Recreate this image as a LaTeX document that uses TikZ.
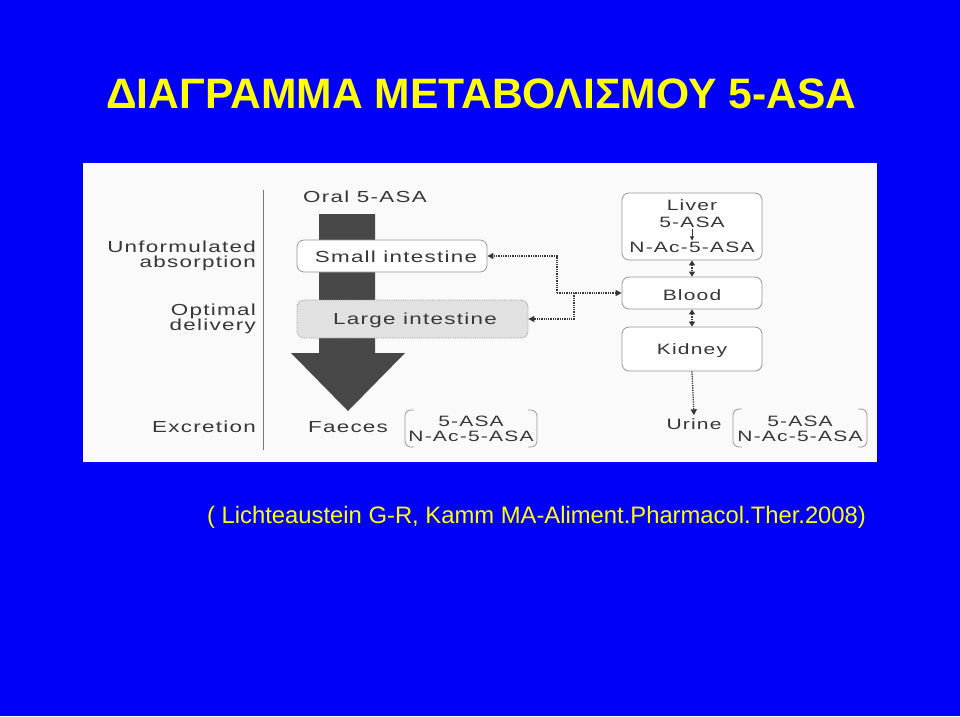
\documentclass[tikz,border=0pt]{standalone}
\usepackage{fontspec}
\setmainfont{Liberation Sans}
\newfontfamily\diagfont[FakeStretch=1.4,LetterSpace=8]{Liberation Sans}
\usetikzlibrary{arrows.meta}
\definecolor{slideblue}{RGB}{0,0,250}
\definecolor{slideyellow}{RGB}{255,255,0}
\definecolor{panelwhite}{RGB}{250,250,250}
\definecolor{arrowgray}{RGB}{72,72,72}
\definecolor{inkgray}{RGB}{55,55,55}
\definecolor{boxgray}{RGB}{150,150,150}
\definecolor{largefill}{RGB}{225,225,225}
\tikzset{
  dtext/.style={font=\diagfont\fontsize{16}{17}\selectfont, text=inkgray, inner sep=0pt, align=center},
  stext/.style={font=\diagfont\fontsize{15}{16}\selectfont, text=inkgray, inner sep=0pt, align=center},
  ltext/.style={font=\diagfont\fontsize{16}{15}\selectfont, text=inkgray, inner sep=0pt, align=right},
  organ/.style={draw=boxgray, line width=0.8pt, rounded corners=7pt, fill=white, inner sep=0pt},
  dotarrow/.style={draw=inkgray, densely dotted, line width=1.3pt, -{Triangle[length=6pt,width=6pt]}},
  dotboth/.style={draw=inkgray, densely dotted, line width=1.3pt, {Triangle[length=5pt,width=6pt]}-{Triangle[length=5pt,width=6pt]}},
  bracketline/.style={draw=boxgray, line width=0.8pt, rounded corners=6pt}
}
\begin{document}
\begin{tikzpicture}[x=1pt,y=-1pt]
\useasboundingbox (0,0) rectangle (960,716);
\fill[slideblue] (0,0) rectangle (960,716);
\fill[panelwhite] (83,163) rectangle (877,462);

% title
\node[anchor=base west, inner sep=0pt, text=slideyellow, font=\bfseries\fontsize{42.6}{48}\selectfont] (title) at (106,108) {ΔΙΑΓΡΑΜΜΑ ΜΕΤΑΒΟΛΙΣΜΟΥ 5-ASA};

% citation
\node[anchor=base west, inner sep=0pt, text=slideyellow, font=\fontsize{23.8}{28}\selectfont] (cite) at (207,523) {( Lichteaustein G-R, Kamm MA-Aliment.Pharmacol.Ther.2008)};

% separator line
\draw[boxgray!80!black, line width=0.8pt] (263,190) -- (263,450);

% big arrow
\fill[arrowgray] (319,214) -- (375,214) -- (375,353) -- (405,353) -- (348,411) -- (291,353) -- (319,353) -- cycle;

% left labels
\node[ltext, anchor=east] (unf) at (256,256) {Unformulated\\absorption};
\node[ltext, anchor=east] (opt) at (256,319) {Optimal\\delivery};
\node[ltext, anchor=east] (exc) at (256,427) {Excretion};

% central column
\node[dtext] (oral) at (365,197) {Oral 5-ASA};
\node[organ, minimum width=190pt, minimum height=32pt] (small) at (392,256) {};
\node[dtext] (smalltext) at (396,257) {Small intestine};
\node[organ, fill=largefill, densely dotted, minimum width=231pt, minimum height=38pt] (large) at (412.5,319) {};
\node[dtext] (largetext) at (415,320) {Large intestine};
\node[dtext] (faeces) at (348,427) {Faeces};

% left bracket group
\node[stext] (fa1) at (471,421) {5-ASA};
\node[stext] (fa2) at (471,436) {N-Ac-5-ASA};
\coordinate (lbl) at (405,410);
\coordinate (lbr) at (537,410);
\draw[bracketline] ([xshift=9pt]lbl) -- (lbl) -- ([yshift=-37pt]lbl) -- ([xshift=9pt,yshift=-37pt]lbl);
\draw[bracketline] ([xshift=-9pt]lbr) -- (lbr) -- ([yshift=-37pt]lbr) -- ([xshift=-9pt,yshift=-37pt]lbr);

% right column
\node[organ, minimum width=140pt, minimum height=67pt] (liver) at (692,226.5) {};
\node[stext] (livertext) at (692,205) {Liver};
\node[stext] (lasa) at (692,222) {5-ASA};
\node[stext] (lnac) at (692,247) {N-Ac-5-ASA};
\draw[inkgray, line width=0.9pt, -{Triangle[length=4pt,width=4pt]}] ([yshift=-1pt]lasa.south) -- ([yshift=1pt]lnac.north);

\node[organ, minimum width=140pt, minimum height=32pt] (blood) at (692,293) {};
\node[stext] (bloodtext) at (692,295) {Blood};
\node[organ, minimum width=140pt, minimum height=44pt] (kidney) at (692,349) {};
\node[stext] (kidneytext) at (692,351) {Kidney};

\draw[dotboth] (liver.south) -- (blood.north);
\draw[dotboth] (blood.south) -- (kidney.north);

\node[stext] (urine) at (694,424) {Urine};
\draw[dotarrow] (kidney.south) -- ([yshift=3pt]urine.north);

% right bracket group
\node[stext] (ur1) at (800,421) {5-ASA};
\node[stext] (ur2) at (800,436) {N-Ac-5-ASA};
\coordinate (rbl) at (733,409);
\coordinate (rbr) at (867,409);
\draw[bracketline] ([xshift=9pt]rbl) -- (rbl) -- ([yshift=-38pt]rbl) -- ([xshift=9pt,yshift=-38pt]rbl);
\draw[bracketline] ([xshift=-9pt]rbr) -- (rbr) -- ([yshift=-38pt]rbr) -- ([xshift=-9pt,yshift=-38pt]rbr);

% dotted connectors
\coordinate (j1) at (557,293);
\coordinate (j2) at (574,293);
\draw[dotarrow] (j1) -- (blood.west);
\draw[dotarrow] (j1) |- (small.east);
\draw[dotarrow] (j2) |- (large.east);
\end{tikzpicture}
\end{document}
